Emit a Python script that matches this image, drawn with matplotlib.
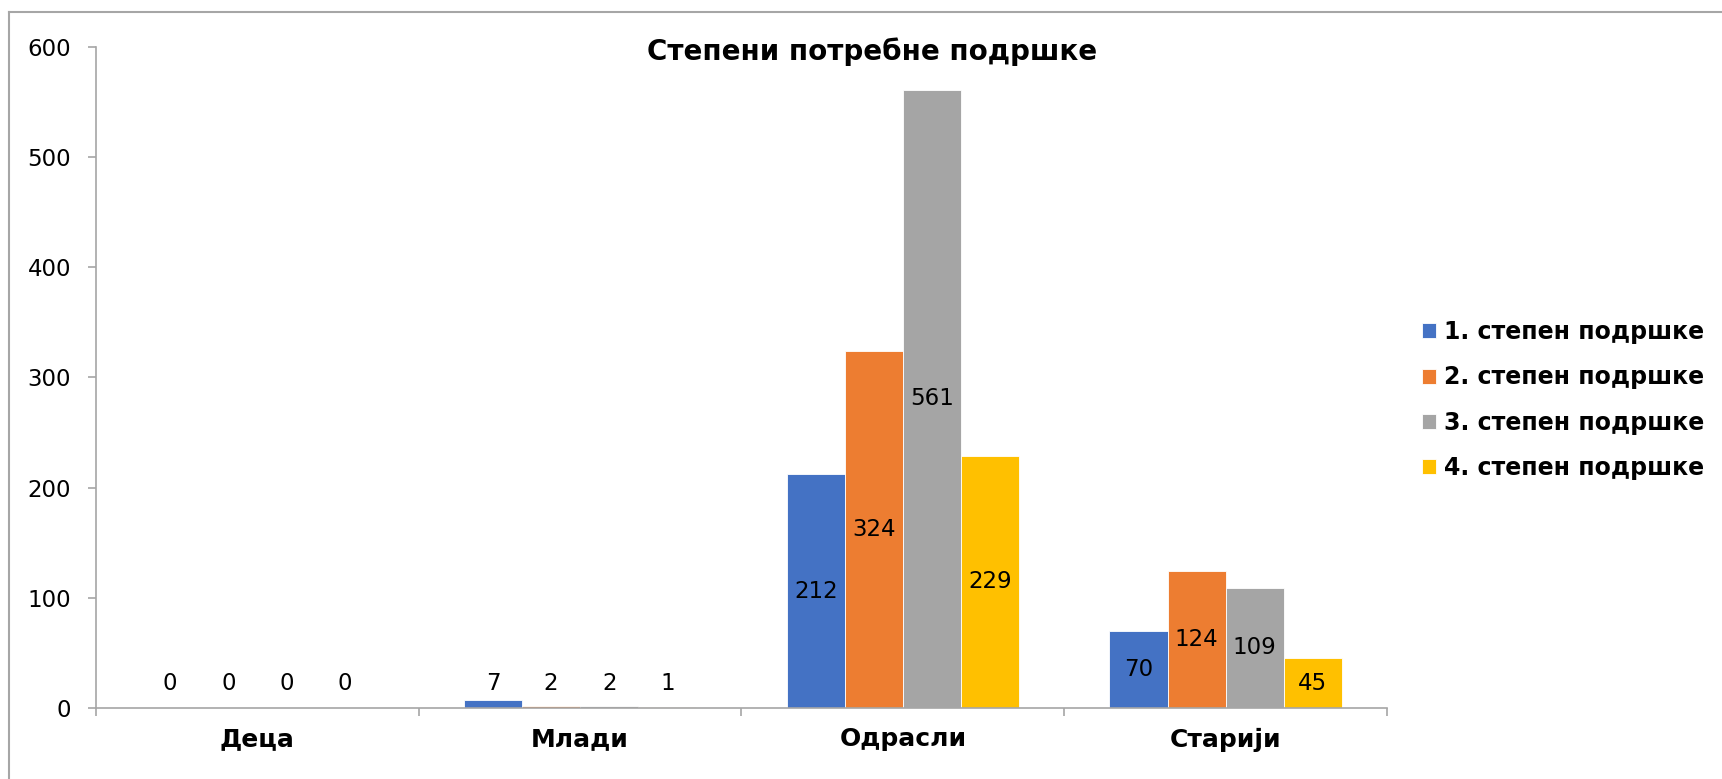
import matplotlib
import numpy as np

matplotlib.use("Agg")
import matplotlib.pyplot as plt
from matplotlib.lines import Line2D

categories = ["Деца", "Млади", "Одрасли", "Старији"]
series_names = [
    "1. степен подршке",
    "2. степен подршке",
    "3. степен подршке",
    "4. степен подршке",
]
degree_1 = [0, 7, 212, 70]
degree_2 = [0, 2, 324, 124]
degree_3 = [0, 2, 561, 109]
degree_4 = [0, 1, 229, 45]
colors = ["#4472C4", "#ED7D31", "#A5A5A5", "#FFC000"]

W, H = 1722, 779
fig = plt.figure(figsize=(W / 100, H / 100), dpi=100)
ax = fig.add_axes([96 / W, 1 - 708 / H, (1387 - 96) / W, (708 - 46.7) / H])

# outer chart border (top and left only are visible)
axis_grey = "#A6A6A6"
fig.add_artist(Line2D([9 / W, 1.0], [1 - 12 / H] * 2, color=axis_grey, lw=1.5))
fig.add_artist(Line2D([9 / W] * 2, [0.0, 1 - 12 / H], color=axis_grey, lw=1.5))

x = np.arange(len(categories))
width = 0.18
series = [degree_1, degree_2, degree_3, degree_4]
for i, (values, name, color) in enumerate(zip(series, series_names, colors)):
    pos = x + (i - 1.5) * width
    ax.bar(pos, values, width, color=color, edgecolor="white", linewidth=0.6, label=name)
    for px, v in zip(pos, values):
        if v > 30:
            ax.text(px, v / 2, str(v), ha="center", va="center", fontsize=16.5)
        else:
            ax.annotate(str(v), (px, 0), xytext=(0, 18), textcoords="offset points",
                        ha="center", va="center", fontsize=16.5)

ax.set_xlim(-0.5, len(categories) - 0.5)
ax.set_ylim(0, 600)
ax.set_yticks(range(0, 601, 100))
ax.set_xticks(x)
ax.set_xticklabels(categories, fontsize=18, fontweight="bold")
ax.set_xticks(np.arange(-0.5, len(categories)), minor=True)
ax.tick_params(axis="x", which="major", length=0, pad=14)
ax.tick_params(axis="x", which="minor", length=6, color=axis_grey, width=1.2, direction="out")
ax.tick_params(axis="y", length=6, color=axis_grey, width=1.2, labelsize=16.5, pad=12)

for side in ("top", "right"):
    ax.spines[side].set_visible(False)
for side in ("left", "bottom"):
    ax.spines[side].set_color(axis_grey)
    ax.spines[side].set_linewidth(1.2)

fig.text(872 / W, 1 - 52 / H, "Степени потребне подршке", ha="center", va="center",
         fontsize=20, fontweight="bold")

fig.legend(loc="center left", bbox_to_anchor=(1401 / W, 1 - 400 / H), frameon=False,
           handlelength=0.6, handleheight=0.6, handletextpad=0.3, labelspacing=0.9,
           prop={"size": 17, "weight": "bold"})

fig.savefig("out.png", dpi=100)
